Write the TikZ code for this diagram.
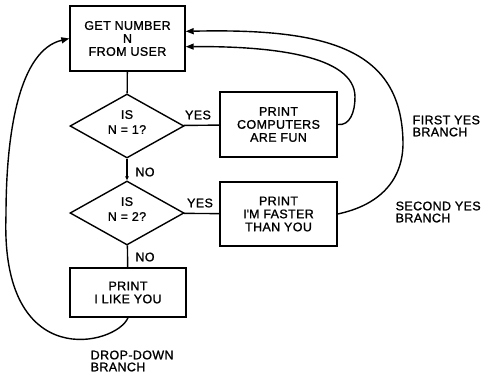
\documentclass[tikz,border=0pt]{standalone}
\usepackage{fontspec}
\setmainfont{Liberation Sans}[FakeBold=1.2,LetterSpace=3]
\usetikzlibrary{shapes.geometric,arrows.meta,calc}
\begin{document}
\begin{tikzpicture}[x=1pt,y=1pt,line width=1.4pt,
  txt/.style={font=\fontsize{12.5}{13}\selectfont},
  box/.style={draw,rectangle,align=center,inner sep=0pt,txt},
  dia/.style={draw,diamond,aspect=1.78,inner sep=0pt,minimum width=114pt,minimum height=64pt},
  diatxt/.style={align=center,inner sep=0pt,font=\fontsize{12.5}{15}\selectfont},
  lbl/.style={inner sep=0pt,align=left,font=\fontsize{12.5}{12}\selectfont},
  tip/.style={-{Triangle[length=8pt,width=6pt]}},
  smalltip/.style={-{Triangle[length=4pt,width=3.5pt]}}]
\useasboundingbox (0,0) rectangle (482,-375);
\node[box,minimum width=115pt,minimum height=65pt] (get) at (127.5,-38.5) {GET NUMBER\\N\\FROM USER};
\node[dia] (d1) at (127,-126) {};
\node[diatxt] (d1t) at (127,-122) {IS\\N = 1?};
\node[box,minimum width=117pt,minimum height=65pt] (p1) at (278.5,-124.5) {PRINT\\COMPUTERS\\ARE FUN};
\node[dia] (d2) at (127,-213) {};
\node[diatxt] (d2t) at (127,-209) {IS\\N = 2?};
\node[box,minimum width=117pt,minimum height=64pt] (p2) at (278.5,-214) {PRINT\\I\textquotesingle M FASTER\\THAN YOU};
\node[box,minimum width=116pt,minimum height=49pt] (p3) at (128,-292.5) {PRINT\\I LIKE YOU};
\node[lbl] (y1) at (198,-115) {YES};
\node[lbl] (n1) at (145,-172) {NO};
\node[lbl] (y2) at (200,-203) {YES};
\node[lbl] (n2) at (145,-257) {NO};
\node[lbl,anchor=west] (fy) at (412,-126) {FIRST YES\\BRANCH};
\node[lbl,anchor=west] (sy) at (395,-212) {SECOND YES\\BRANCH};
\node[lbl,anchor=west] (dd) at (90,-361) {DROP-DOWN\\BRANCH};
\draw (get) -- (d1);
\draw (d1) -- (p1);
\draw[smalltip] (d1) -- (d2);
\draw (d2) -- (p2);
\draw (d2) -- (p3);
\draw[tip] (p3.south) .. controls (117,-345) and (0,-375) .. (6,-215) .. controls (6,-130) and (20,-50) .. (get.west);
\draw[tip] (p1.east) .. controls (350,-126) and (355,-112) .. (355,-97) .. controls (355,-55) and (270,-46) .. (get.-8.4);
\draw[tip] (p2.east) .. controls (380,-205) and (403,-180) .. (403,-143) .. controls (402,-50) and (330,-28) .. (get.7.4);
\end{tikzpicture}
\end{document}
